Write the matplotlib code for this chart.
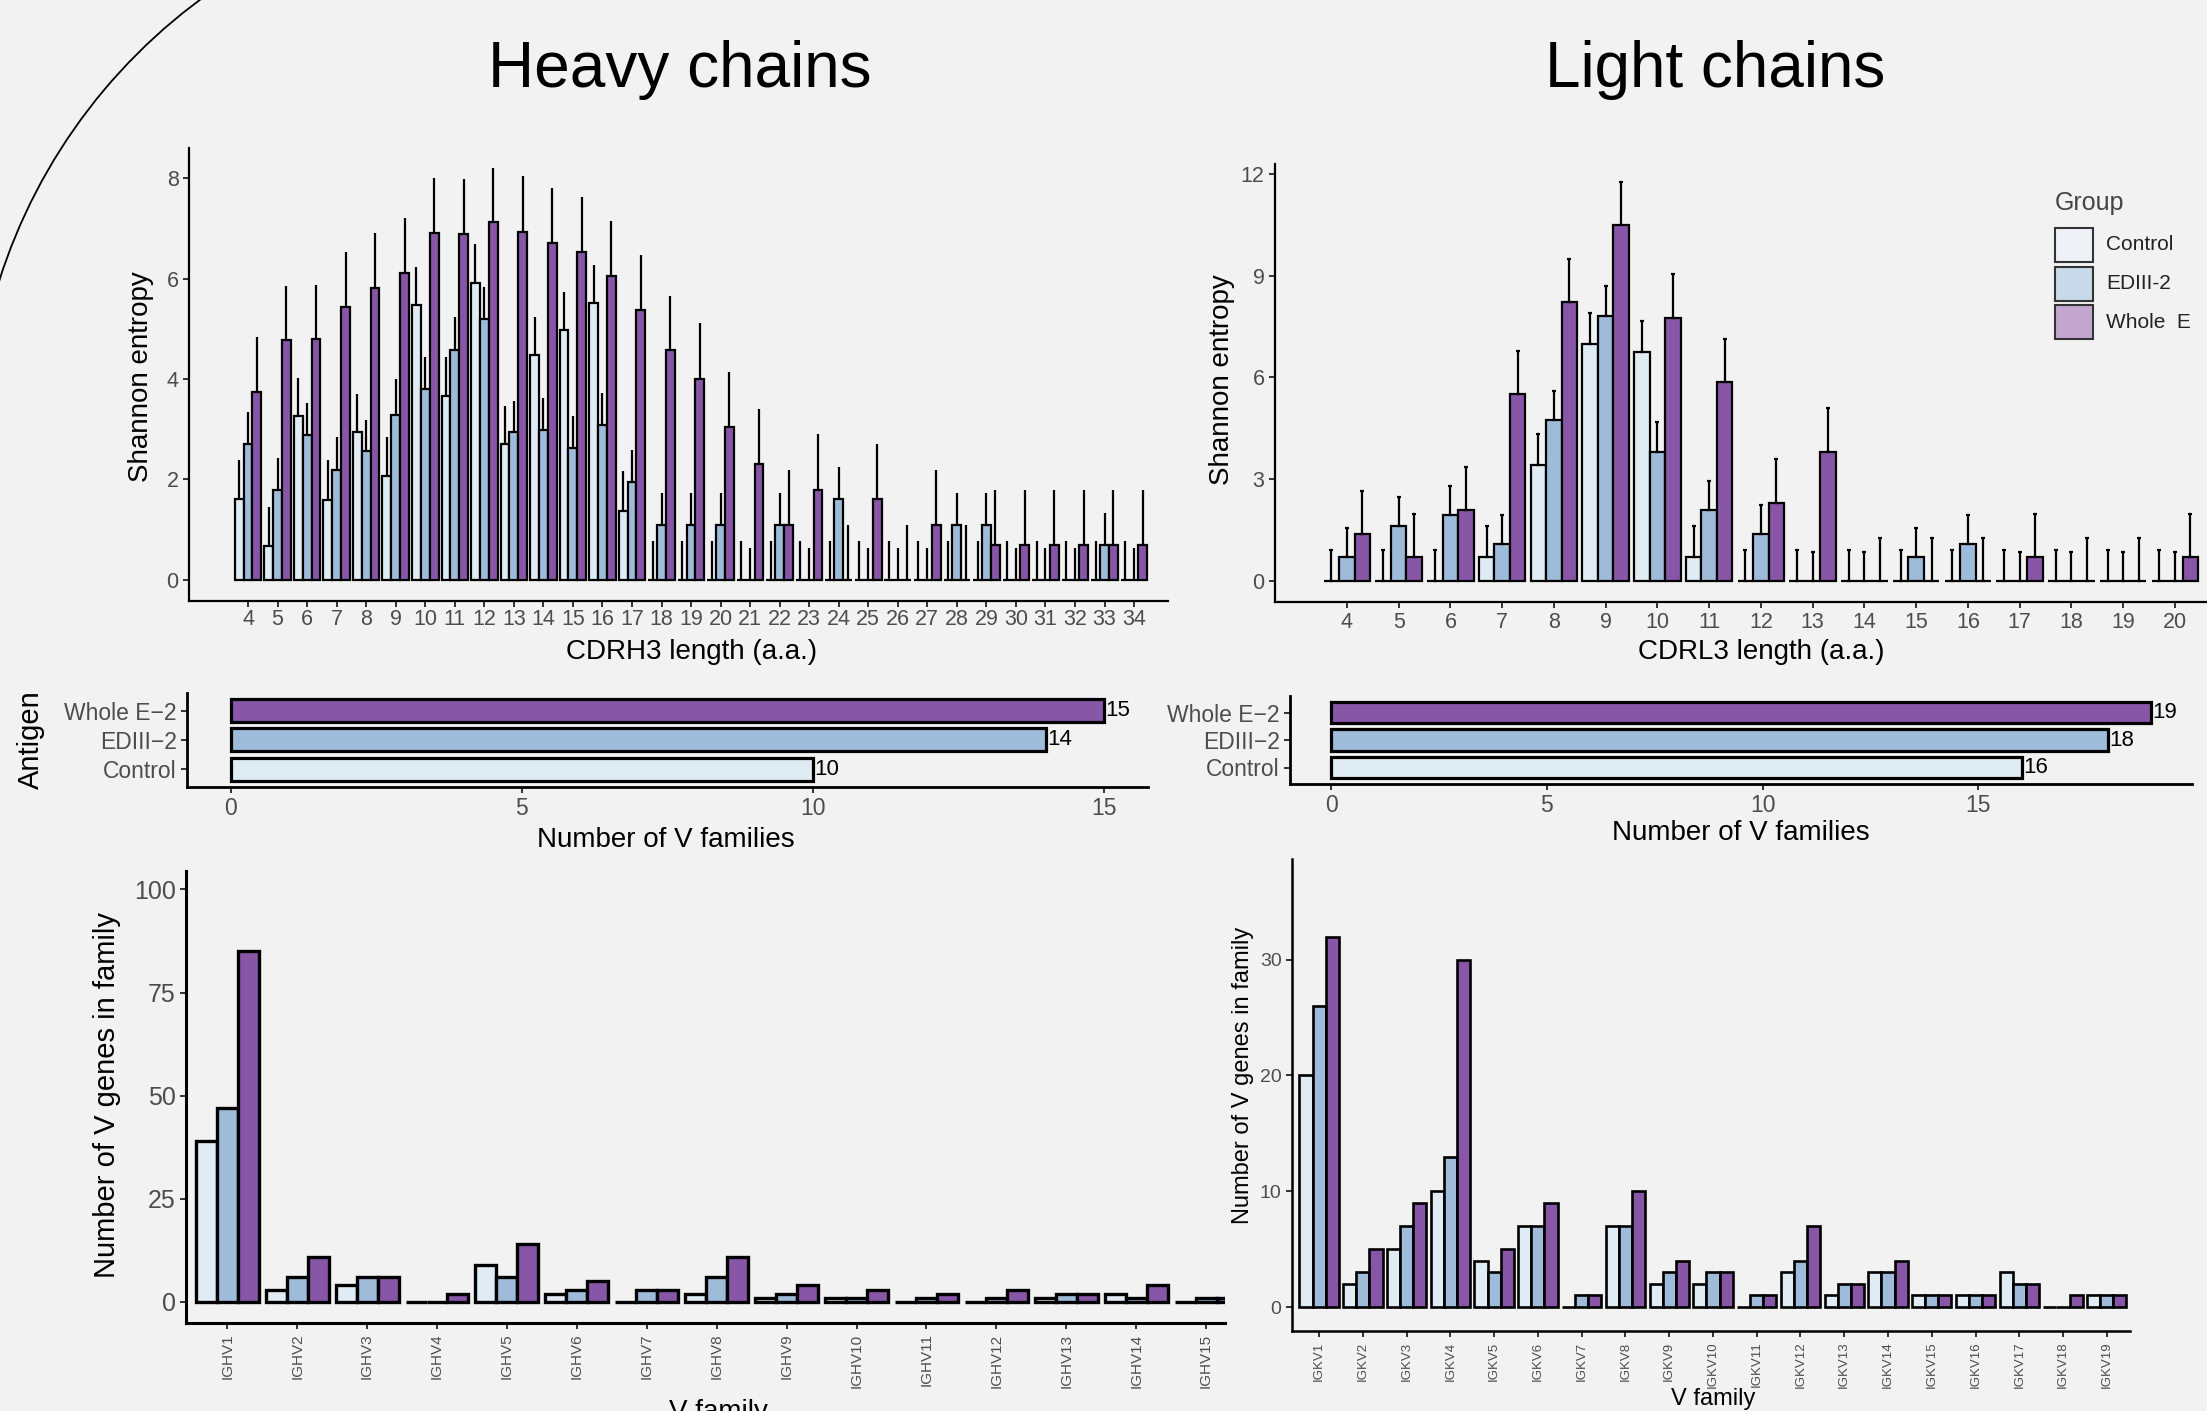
import numpy as np
import matplotlib
matplotlib.use("Agg")
import matplotlib.pyplot as plt
from matplotlib.patches import Rectangle, Arc

plt.rcParams['font.family'] = ['Liberation Sans', 'DejaVu Sans']

W, H = 2207, 1411
BG = '#F2F2F2'
groups = ['Control', 'EDIII-2', 'Whole  E']
fills = ['#E0ECF4', '#9EBCDA', '#8856A7']
legend_fills = ['#EEF2F6', '#C9DAEA', '#C3A6D0']

# Heavy chains: Shannon entropy by CDRH3 length (mean, error)
h_len = list(range(4, 35))
h_ctrl = [1.61, 0.68, 3.26, 1.59, 2.94, 2.06, 5.48, 3.66, 5.92, 2.71, 4.47, 4.98, 5.51, 1.38,
          0, 0, 0, 0, 0, 0, 0, 0, 0, 0, 0, 0, 0, 0, 0, 0, 0]
h_ediii = [2.71, 1.79, 2.88, 2.19, 2.56, 3.29, 3.80, 4.58, 5.19, 2.94, 2.98, 2.63, 3.09, 1.95,
           1.10, 1.10, 1.10, 0, 1.10, 0, 1.61, 0, 0, 0, 1.10, 1.10, 0, 0, 0, 0.70, 0]
h_whole = [3.74, 4.77, 4.79, 5.43, 5.82, 6.11, 6.91, 6.88, 7.12, 6.93, 6.71, 6.52, 6.06, 5.37,
           4.57, 4.01, 3.05, 2.31, 1.10, 1.79, 0, 1.61, 0, 1.10, 0, 0.70, 0.70, 0.70, 0.70, 0.70, 0.70]
h_ctrl_err = [0.77, 0.78, 0.76, 0.79, 0.76, 0.78, 0.75, 0.77, 0.77, 0.76, 0.77, 0.76, 0.76, 0.78,
              0.77, 0.77, 0.77, 0.77, 0.77, 0.77, 0.77, 0.77, 0.77, 0.77, 0.77, 0.77, 0.77, 0.77, 0.77, 0.77, 0.77]
h_ediii_err = [0.63, 0.63, 0.64, 0.65, 0.63, 0.71, 0.64, 0.65, 0.64, 0.63, 0.65, 0.64, 0.63, 0.63,
               0.64, 0.64, 0.64, 0.64, 0.64, 0.64, 0.63, 0.64, 0.64, 0.64, 0.64, 0.64, 0.64, 0.64, 0.64, 0.63, 0.64]
h_whole_err = [1.09, 1.09, 1.09, 1.09, 1.09, 1.09, 1.10, 1.10, 1.09, 1.11, 1.09, 1.10, 1.09, 1.09,
               1.09, 1.10, 1.09, 1.09, 1.09, 1.11, 1.10, 1.10, 1.10, 1.09, 1.10, 1.09, 1.09, 1.09, 1.09, 1.09, 1.09]

# Light chains: Shannon entropy by CDRL3 length
l_len = list(range(4, 21))
l_ctrl = [0, 0, 0, 0.70, 3.41, 6.99, 6.75, 0.70, 0, 0, 0, 0, 0, 0, 0, 0, 0]
l_ediii = [0.70, 1.62, 1.94, 1.08, 4.73, 7.81, 3.80, 2.09, 1.39, 0, 0, 0.70, 1.09, 0, 0, 0, 0]
l_whole = [1.39, 0.70, 2.09, 5.50, 8.21, 10.48, 7.76, 5.86, 2.31, 3.81, 0, 0, 0, 0.70, 0, 0, 0.70]
l_ctrl_err = [0.91, 0.91, 0.91, 0.92, 0.91, 0.92, 0.92, 0.92, 0.91, 0.91, 0.91, 0.91, 0.91, 0.91, 0.91, 0.91, 0.91]
l_ediii_err = [0.85, 0.85, 0.86, 0.87, 0.88, 0.87, 0.88, 0.85, 0.85, 0.86, 0.86, 0.85, 0.86, 0.86, 0.86, 0.86, 0.86]
l_whole_err = [1.27, 1.28, 1.26, 1.29, 1.29, 1.27, 1.29, 1.28, 1.28, 1.30, 1.28, 1.28, 1.28, 1.28, 1.28, 1.28, 1.28]

# Number of V families per antigen
antigens = ['Control', 'EDIII\u22122', 'Whole E\u22122']
h_nfam = [10, 14, 15]
l_nfam = [16, 18, 19]

# Number of V genes in each family
h_fam = ['IGHV%d' % i for i in range(1, 16)]
h_fam_ctrl = [39, 3, 4, 0, 9, 2, 0, 2, 1, 1, 0, 0, 1, 2, 0]
h_fam_ediii = [47, 6, 6, 0, 6, 3, 3, 6, 2, 1, 1, 1, 2, 1, 1]
h_fam_whole = [85, 11, 6, 2, 14, 5, 3, 11, 4, 3, 2, 3, 2, 4, 1]

l_fam = ['IGKV%d' % i for i in range(1, 20)]
l_fam_ctrl = [20, 2, 5, 10, 4, 7, 0, 7, 2, 2, 0, 3, 1, 3, 1, 1, 3, 0, 1]
l_fam_ediii = [26, 3, 7, 13, 3, 7, 1, 7, 3, 3, 1, 4, 2, 3, 1, 1, 2, 0, 1]
l_fam_whole = [32, 5, 9, 30, 5, 9, 1, 10, 4, 3, 1, 7, 2, 4, 1, 1, 2, 1, 1]


def pxbox(x0, y0, x1, y1):
    return [x0 / W, 1 - y1 / H, (x1 - x0) / W, (y1 - y0) / H]


def ftext(x, y, s, ha='center', **kw):
    fig.text(x / W, 1 - y / H, s, ha=ha, va='center', **kw)


def style(ax, size, lw=1.6):
    ax.set_facecolor('none')
    for s in ['top', 'right']:
        ax.spines[s].set_visible(False)
    for s in ['left', 'bottom']:
        ax.spines[s].set_linewidth(lw)
    ax.tick_params(color='#222222', labelcolor='#4D4D4D', labelsize=size, length=4, width=1.3)


def grouped(ax, x, series, errs=None, lw=1.5, cap=0):
    x = np.asarray(x, float)
    w = 0.3
    for i, vals in enumerate(series):
        pos = x + (i - 1) * w
        vals = np.asarray(vals, float)
        ax.bar(pos, vals, width=w, color=fills[i], edgecolor='black', linewidth=lw, zorder=2)
        if errs is not None:
            e = np.asarray(errs[i], float)
            ax.errorbar(pos, vals, yerr=[np.zeros_like(e), e], fmt='none', ecolor='black',
                        elinewidth=1.6, capsize=cap, capthick=1.6, zorder=3)


fig = plt.figure(figsize=(W / 100, H / 100), dpi=100, facecolor=BG)

# full-figure pixel axes: decorative arc and the legend
deco = fig.add_axes([0, 0, 1, 1])
deco.set_xlim(0, W)
deco.set_ylim(H, 0)
deco.axis('off')
deco.add_patch(Arc((533, 450), 1120, 1120, theta1=180, theta2=260, lw=1.3, color='black'))

deco.text(2055, 203, 'Group', fontsize=18, color='#444444', ha='left', va='center')
for i, (lab, col) in enumerate(zip(groups, legend_fills)):
    yc = 245 + 38.5 * i
    deco.add_patch(Rectangle((2055, yc - 17), 38, 34, facecolor=col, edgecolor='#333333', lw=1.5))
    deco.text(2106, yc, lab, fontsize=15, color='#222222', ha='left', va='center')

ftext(680, 70, 'Heavy chains', fontsize=46)
ftext(1715, 70, 'Light chains', fontsize=46)

# --- top left: heavy entropy
ax1 = fig.add_axes(pxbox(189, 148, 1168, 601))
grouped(ax1, h_len, [h_ctrl, h_ediii, h_whole], [h_ctrl_err, h_ediii_err, h_whole_err], lw=1.6)
ax1.set_xlim(2.0, 35.15)
ax1.set_ylim(-0.42, 8.6)
ax1.set_xticks(h_len)
ax1.set_yticks([0, 2, 4, 6, 8])
style(ax1, 15.5)
ax1.tick_params(axis='x', pad=2)
ftext(692, 652, 'CDRH3 length (a.a.)', fontsize=20)
ftext(141, 377, 'Shannon entropy', fontsize=20, rotation=90)

# --- top right: light entropy
ax2 = fig.add_axes(pxbox(1275, 164, 2207, 602))
grouped(ax2, l_len, [l_ctrl, l_ediii, l_whole], [l_ctrl_err, l_ediii_err, l_whole_err], lw=1.6, cap=1.5)
ax2.set_xlim(2.61, 20.62)
ax2.set_ylim(-0.62, 12.29)
ax2.set_xticks(l_len)
ax2.set_yticks([0, 3, 6, 9, 12])
style(ax2, 15.5)
ftext(1761, 652, 'CDRL3 length (a.a.)', fontsize=20)
ftext(1222, 380, 'Shannon entropy', fontsize=20, rotation=90)

# --- middle: number of V families
for box, vals, xl, xlab_xy in [((187, 693, 1147.5, 786.7), h_nfam, (-0.75, 15.75), (666, 840)),
                               ((1290, 696, 2192, 784), l_nfam, (-0.95, 19.95), (1741, 833))]:
    ax = fig.add_axes(pxbox(*box))
    ypos = np.arange(1, len(antigens) + 1)
    ax.barh(ypos, vals, height=0.78, color=fills, edgecolor='black', linewidth=2.3, zorder=2)
    for yy, v in zip(ypos, vals):
        ax.text(v + 0.03, yy, str(v), ha='left', va='center', fontsize=16, color='black')
    ax.set_xlim(*xl)
    ax.set_ylim(0.4, 3.6)
    ax.set_yticks(ypos)
    ax.set_yticklabels(antigens)
    ax.set_xticks([0, 5, 10, 15])
    style(ax, 16.5, lw=2.0)
    ftext(xlab_xy[0], xlab_xy[1], 'Number of V families', fontsize=20)
ftext(31, 740, 'Antigen', fontsize=21, rotation=90)

# --- bottom left: V genes per heavy family
ax5 = fig.add_axes(pxbox(186, 870.5, 1225, 1323))
xh = np.arange(1, len(h_fam) + 1)
grouped(ax5, xh, [h_fam_ctrl, h_fam_ediii, h_fam_whole], lw=2.4)
ax5.set_xlim(0.41, 15.27)
ax5.set_ylim(-5.1, 104.6)
ax5.set_xticks(xh)
ax5.set_xticklabels(h_fam, rotation=90)
ax5.set_yticks([0, 25, 50, 75, 100])
style(ax5, 18, lw=2.2)
ax5.tick_params(axis='x', labelsize=11)
ftext(107, 1095, 'Number of V genes in family', fontsize=21, rotation=90)
ftext(718, 1412, 'V family', fontsize=20)

# --- bottom right: V genes per kappa family
ax6 = fig.add_axes(pxbox(1292, 859, 2130, 1331))
xl_ = np.arange(1, len(l_fam) + 1)
grouped(ax6, xl_, [l_fam_ctrl, l_fam_ediii, l_fam_whole], lw=1.9)
ax6.set_xlim(0.38, 19.53)
ax6.set_ylim(-2.07, 38.7)
ax6.set_xticks(xl_)
ax6.set_xticklabels(l_fam, rotation=90)
ax6.set_yticks([0, 10, 20, 30])
style(ax6, 14, lw=1.8)
ax6.tick_params(axis='x', labelsize=9.5)
ftext(1243, 1075, 'Number of V genes in family', fontsize=17, rotation=90)
ftext(1713, 1399, 'V family', fontsize=17)

fig.savefig('out.png', dpi=100, facecolor=BG)
